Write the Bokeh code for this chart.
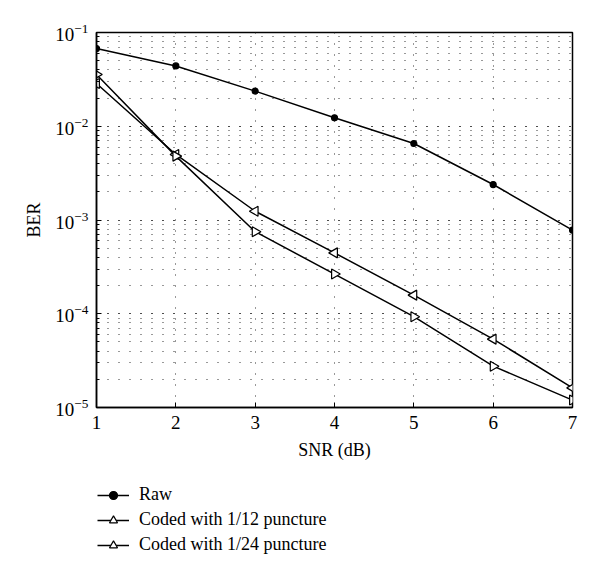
import numpy as np
from bokeh.plotting import figure
from bokeh.layouts import column
from bokeh.models import Legend, LegendItem, FixedTicker, LogTicker, ColumnDataSource
from bokeh.embed import file_html
from bokeh.resources import INLINE

snr = [1, 2, 3, 4, 5, 6, 7]
ber_raw = [0.0675, 0.044, 0.0237, 0.0123, 0.00655, 0.00239, 0.00078]
ber_12 = [0.0286, 0.0050, 0.00124, 0.000446, 0.000158, 5.36e-5, 1.62e-5]
ber_24 = [0.0357, 0.0048, 0.00075, 0.000265, 9.3e-5, 2.76e-5, 1.2e-5]
names = ["Raw", "Coded with 1/12 puncture", "Coded with 1/24 puncture"]

FONT = "Liberation Serif"

p = figure(width=584, height=480, y_axis_type="log",
           x_range=(1, 7), y_range=(1e-5, 1e-1),
           output_backend="svg", toolbar_location=None,
           min_border_left=96, min_border_top=32, min_border_right=12,
           min_border_bottom=73)

p.background_fill_color = "white"
p.border_fill_color = "white"
p.outline_line_color = "black"
p.outline_line_width = 1.5

# axes
for ax in (p.xaxis[0], p.yaxis[0]):
    ax.axis_line_color = "black"
    ax.axis_line_width = 1.5
    ax.major_tick_in = 5
    ax.major_tick_out = 0
    ax.minor_tick_in = 3
    ax.minor_tick_out = 0
    ax.major_label_text_font = FONT
    ax.major_label_text_font_size = "19px"
    ax.major_label_text_color = "black"
    ax.axis_label_text_font = FONT
    ax.axis_label_text_font_size = "18px"
    ax.axis_label_text_font_style = "normal"
    ax.axis_label_text_color = "black"
    ax.major_tick_line_color = "black"
    ax.minor_tick_line_color = "black"

p.xaxis.ticker = FixedTicker(ticks=snr)
p.xaxis.minor_tick_line_color = None
p.xaxis.axis_label = "SNR (dB)"
p.xaxis.major_label_standoff = 8
p.xaxis.axis_label_standoff = 8
p.yaxis.ticker = LogTicker(mantissas=[1], num_minor_ticks=10)
p.yaxis.axis_label = "BER"
p.yaxis.major_label_standoff = 8
p.yaxis.axis_label_standoff = 8

# grid
for g in (p.xgrid[0], p.ygrid[0]):
    g.grid_line_color = "#333333"
    g.grid_line_dash = "1 10"
    g.grid_line_width = 1
p.ygrid.minor_grid_line_color = "#333333"
p.ygrid.minor_grid_line_dash = "1 10"
p.ygrid.minor_grid_line_width = 1

series = [
    (ber_raw, "circle", 0.0, 6, "black"),
    (ber_12, "triangle", np.pi / 2, 10, "white"),
    (ber_24, "triangle", -np.pi / 2, 10, "white"),
]

# legend figure underneath (frame aligned with the main plot's frame)
q = figure(width=584, height=80, x_range=(0, 1), y_range=(0, 1),
           output_backend="svg", toolbar_location=None,
           min_border_left=96, min_border_right=12, min_border_top=0, min_border_bottom=0)
q.axis.visible = False
q.grid.visible = False
q.outline_line_color = None
q.background_fill_color = "white"
q.border_fill_color = "white"

items = []
for name, (vals, mk, ang, sz, fc) in zip(names, series):
    p.line(snr, vals, line_color="black", line_width=1.5)
    p.scatter(snr, vals, marker=mk, angle=ang, size=sz,
              fill_color=fc, line_color="black", line_width=1.2)
    src = ColumnDataSource(data=dict(x=[np.nan], y=[np.nan], a=[ang]))
    lr = q.line("x", "y", source=src, line_color="black", line_width=1.5)
    sr = q.scatter("x", "y", source=src, marker=mk, angle="a", size=sz,
                   fill_color=fc, line_color="black", line_width=1.2)
    items.append(LegendItem(label=name, renderers=[lr, sr], index=0))

legend = Legend(items=items, location=(1, 5), orientation="vertical")
legend.border_line_color = None
legend.background_fill_alpha = 0
legend.label_text_font = FONT
legend.label_text_font_size = "18px"
legend.label_text_color = "black"
legend.glyph_width = 32
legend.glyph_height = 20
legend.label_standoff = 10
legend.spacing = 4
legend.padding = 0
legend.margin = 0
legend.label_height = 20
q.add_layout(legend)

layout = column(p, q, spacing=0)
open("out.html", "w").write(file_html(layout, INLINE))
